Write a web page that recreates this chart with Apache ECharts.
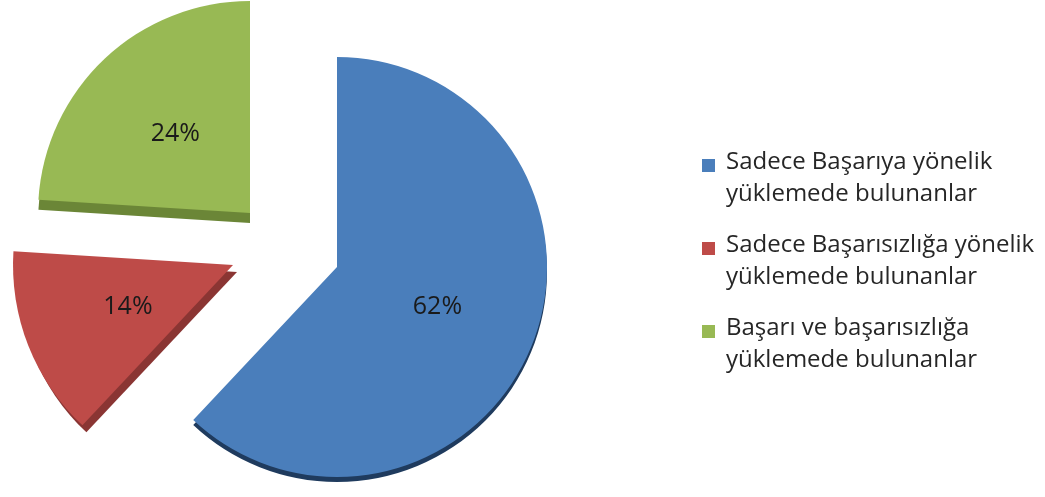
<!DOCTYPE html>
<html>
<head>
<meta charset="utf-8">
<script src="https://cdn.jsdelivr.net/npm/echarts@6/dist/echarts.min.js"></script>
<style>
html,body{margin:0;padding:0;background:#fff;}
#chart{width:1045px;height:497px;}
</style>
</head>
<body>
<div id="chart"></div>
<script>
const categories = [
  'Sadece Başarıya yönelik yüklemede bulunanlar',
  'Sadece Başarısızlığa yönelik yüklemede bulunanlar',
  'Başarı ve başarısızlığa yüklemede bulunanlar'
];
const legendLines = [
  ['Sadece Başarıya yönelik', 'yüklemede bulunanlar'],
  ['Sadece Başarısızlığa yönelik', 'yüklemede bulunanlar'],
  ['Başarı ve başarısızlığa', 'yüklemede bulunanlar']
];
const values = [62, 14, 24];

const faceColors = ['#4a7ebb', '#be4b48', '#98b954'];
const sideColors = ['#1f3b5e', '#8a3533', '#6b8637'];
const centers = [[337, 267], [233, 265], [250, 213]];
const radii = [210, 220, 212];
const sideShift = [[0, 5], [4, 7], [0, 10]];

const FONT = '"Open Sans", Lato, "Liberation Sans", sans-serif';

function buildSeries(idx, isSide) {
  const c = centers[idx];
  const sh = isSide ? sideShift[idx] : [0, 0];
  return {
    type: 'pie',
    z: isSide ? 1 : 2,
    silent: isSide,
    startAngle: 90,
    clockwise: true,
    center: [c[0] + sh[0], c[1] + sh[1]],
    radius: [0, radii[idx]],
    avoidLabelOverlap: false,
    emphasis: { scale: false },
    labelLine: { show: false },
    data: categories.map((name, j) => ({
      name: name,
      value: values[j],
      itemStyle: {
        color: j === idx ? (isSide ? sideColors[j] : faceColors[j]) : 'rgba(0,0,0,0)',
        borderWidth: 0
      },
      label: {
        show: !isSide && j === idx,
        position: 'inside',
        formatter: '{d}%',
        color: '#1a1a1a',
        fontSize: 25,
        fontFamily: FONT
      }
    }))
  };
}

const series = [];
for (let i = 0; i < 3; i++) series.push(buildSeries(i, true));
for (let i = 0; i < 3; i++) series.push(buildSeries(i, false));

const iconPath = 'path://M0,0h0.01v0.01h-0.01z M0,13h13v13h-13z M12.99,64h0.01v0.01h-0.01z';

const chart = echarts.init(document.getElementById('chart'), null, { renderer: 'canvas' });
chart.setOption({
  backgroundColor: '#ffffff',
  animation: false,
  legend: {
    orient: 'vertical',
    left: 697,
    top: 141,
    itemWidth: 13,
    itemHeight: 64,
    itemGap: 19,
    icon: iconPath,
    selectedMode: false,
    data: categories.map((name, j) => ({ name: name, itemStyle: { color: faceColors[j] } })),
    formatter: function (name) {
      const j = categories.indexOf(name);
      return legendLines[j].join('\n');
    },
    textStyle: {
      fontFamily: FONT,
      fontSize: 24,
      lineHeight: 32,
      color: '#262626',
      padding: [0, 0, 0, 6]
    }
  },
  series: series
});
</script>
</body>
</html>
